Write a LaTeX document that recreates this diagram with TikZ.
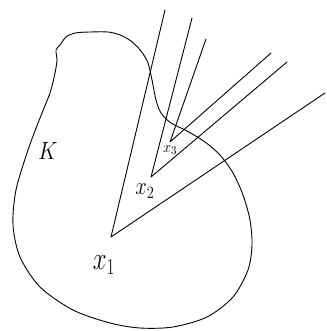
\documentclass[tikz,border=0pt]{standalone}
\begin{document}
\begin{tikzpicture}[x=1pt,y=-1pt,
  ln/.style={line width=0.9pt,line cap=round,line join=round},
  lbl/.style={inner sep=0pt}]
\useasboundingbox (0,0) rectangle (326,331);
% body K
\draw[ln] plot[smooth cycle,tension=0.5] coordinates {
 (60,45) (66,37) (75,33) (90,32) (108,32) (120,35) (131,41) (141,51) (148,63)
 (152,80) (156,100) (161,113) (171,123) (187,131) (205,142) (220,155)
 (233,173) (243,195) (250,220) (252,245) (248,270) (233,297) (207,317)
 (173,327) (140,328) (110,323) (73,310) (40,287) (20,257) (13,225) (16,190)
 (28,150) (40,118) (50,93) (55,73) (57,60) (56,50)};
% vertices
\coordinate (v1) at (111,237);
\coordinate (v2) at (151,177);
\coordinate (v3) at (170,142);
\coordinate (a1) at (165,10);
\coordinate (b1) at (325,93);
\coordinate (a2) at (192,18);
\coordinate (b2) at (287,62);
\coordinate (a3) at (206,39);
\coordinate (b3) at (271,53);
\draw[ln] (a1) -- (v1) -- (b1);
\draw[ln] (a2) -- (v2) -- (b2);
\draw[ln] (a3) -- (v3) -- (b3);
% labels
\node[lbl] (l1) at (104,265) {\scalebox{1}[1.3]{\fontsize{24}{24}\selectfont$x_1$}};
\node[lbl] (l2) at (145,191) {\scalebox{1}[1.2]{\fontsize{22}{22}\selectfont$x_2$}};
\node[lbl] (l3) at (170,150) {\scalebox{1}[1.1]{\fontsize{15}{15}\selectfont$x_3$}};
\node[lbl] (lk) at (48,151) {\scalebox{0.85}[1]{\fontsize{32}{32}\selectfont$K$}};
\end{tikzpicture}
\end{document}
